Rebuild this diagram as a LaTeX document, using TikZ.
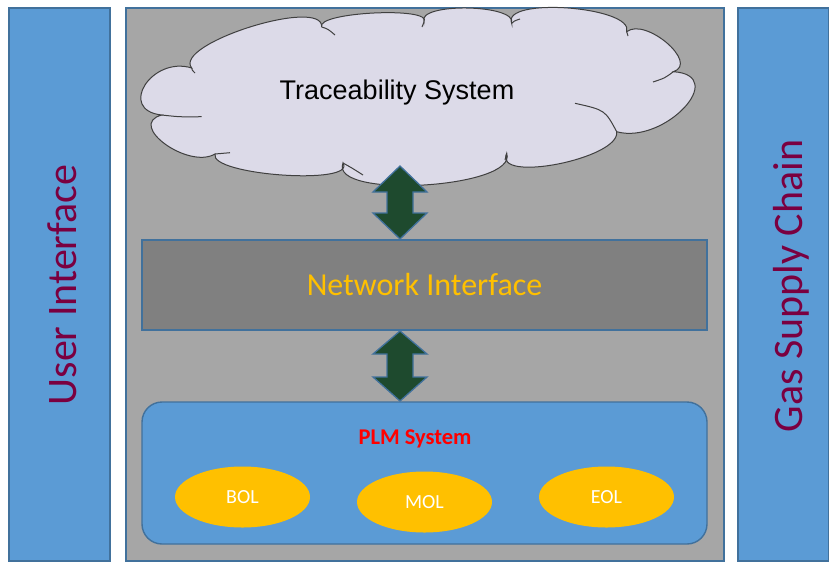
\documentclass[tikz,border=0pt]{standalone}
\usepackage{fontspec}
\setmainfont{Carlito}
\newfontfamily\arialf{Liberation Sans}
\usetikzlibrary{calc,shapes.geometric}
\definecolor{barblue}{HTML}{5B9BD5}
\definecolor{barline}{HTML}{41719C}
\definecolor{panelgrey}{HTML}{A6A6A6}
\definecolor{netgrey}{HTML}{808080}
\definecolor{cloudfill}{HTML}{DCDAE8}
\definecolor{shadowgrey}{HTML}{7F7F7F}
\definecolor{gold}{HTML}{FFC000}
\definecolor{arrowgreen}{HTML}{1E4A2E}
\definecolor{maroon}{HTML}{7A0040}
\tikzset{
  sidebar/.style={draw=barline, line width=1.2pt, fill=barblue},
  sidetext/.style={text=maroon, font=\fontsize{42}{42}\selectfont, rotate=90},
  blockarrow/.style={draw=barline, line width=1.3pt, fill=arrowgreen, line join=miter},
  lifeell/.style={ellipse, fill=gold, minimum width=135pt, minimum height=61pt, inner sep=0pt, text=white, font=\fontsize{20}{20}\selectfont},
  puff/.style n args={3}{insert path={.. controls ($0.4133*(#1)+1.3333*(#2)-0.7467*(#3)$) and ($0.4133*(#3)+1.3333*(#2)-0.7467*(#1)$) .. (#3)}},
  cloudline/.style={draw=black!75, line width=1pt},
}
\begin{document}
\begin{tikzpicture}[x=1pt,y=-1pt]
\useasboundingbox (0,0) rectangle (829,563);
% side bars
\draw[sidebar] (9,8) rectangle (110,561);
\node[sidetext] (ui) at (62,285) {User Interface};
\draw[sidebar] (738,8) rectangle (829,561);
\node[sidetext] (gsc) at (791,286) {Gas Supply Chain};
% central panel
\draw[draw=barline, line width=1.2pt, fill=panelgrey] (126,8) rectangle (724,561);
% cloud geometry
\coordinate (J1) at (191.7,68);  \coordinate (E1) at (250,27);
\coordinate (J2) at (321.7,27);  \coordinate (E2) at (374,13);
\coordinate (J3) at (424,22);    \coordinate (E3) at (467,8);
\coordinate (J4) at (511.7,23.3);\coordinate (E4) at (568,8);
\coordinate (J5) at (626.7,31.7);\coordinate (E5) at (667,43);
\coordinate (J6) at (673.3,71.7);\coordinate (E6) at (684,108);
\coordinate (J7) at (616.7,131.7);\coordinate (E7) at (558,164);
\coordinate (J8) at (506.7,153.3);\coordinate (E8) at (424,185);
\coordinate (J9) at (343,163);   \coordinate (E9) at (282,175);
\coordinate (J10) at (215,154);  \coordinate (E10) at (165,144);
\coordinate (J11) at (161.7,115);\coordinate (E11) at (145,85);
% shadow
\begin{scope}[shift={(13,16)}]
\fill[shadowgrey] (J1) [puff={J1}{E1}{J2}] [puff={J2}{E2}{J3}] [puff={J3}{E3}{J4}] [puff={J4}{E4}{J5}]
  [puff={J5}{E5}{J6}] [puff={J6}{E6}{J7}] [puff={J7}{E7}{J8}] [puff={J8}{E8}{J9}]
  [puff={J9}{E9}{J10}] [puff={J10}{E10}{J11}] [puff={J11}{E11}{J1}] -- cycle;
\end{scope}
% cloud
\path[cloudline, fill=cloudfill] (J1) [puff={J1}{E1}{J2}] [puff={J2}{E2}{J3}] [puff={J3}{E3}{J4}] [puff={J4}{E4}{J5}]
  [puff={J5}{E5}{J6}] [puff={J6}{E6}{J7}] [puff={J7}{E7}{J8}] [puff={J8}{E8}{J9}]
  [puff={J9}{E9}{J10}] [puff={J10}{E10}{J11}] [puff={J11}{E11}{J1}] -- cycle;
% inner cloud arcs
\draw[cloudline] (J11) .. controls (180,117) .. (201.7,116.7);
\draw[cloudline] (J1) .. controls (192,70) .. (195,73);
\draw[cloudline] (J2) .. controls (328,29) .. (335,35);
\draw[cloudline] (J3) .. controls (423,24) .. (422,27);
\draw[cloudline] (J4) .. controls (514,21) .. (520,19);
\draw[cloudline] (J5) .. controls (627,33) .. (628,36);
\draw[cloudline] (653,82) .. controls (665,78) .. (J6);
\draw[cloudline] (575,103.3) .. controls (605,110) .. (J7);
\draw[cloudline] (J8) .. controls (506,157) .. (505,160);
\draw[cloudline] (J9) .. controls (352,168) .. (363,175);
\draw[cloudline] (J10) .. controls (222,153) .. (230,152.7);
\node[font=\arialf\fontsize{27}{27}\selectfont] (trace) at (397,93) {Traceability System};
% network interface
\node[draw=barline, line width=1.2pt, fill=netgrey, minimum width=565pt, minimum height=90pt, inner sep=0pt,
      text=gold, font=\fontsize{32}{32}\selectfont] (net) at (424.5,285) {Network Interface};
% PLM
\node[draw=barline, line width=1.4pt, fill=barblue, rounded corners=20pt, minimum width=565pt, minimum height=142pt, inner sep=0pt] (plm) at (424.5,473) {};
\node[text=red, font=\bfseries\fontsize{22.5}{22.5}\selectfont] (plmt) at (415,439) {PLM System};
\node[lifeell] (bol) at (242.5,497) {BOL};
\node[lifeell] (mol) at (424.5,502) {MOL};
\node[lifeell] (eol) at (606.5,497) {EOL};
% arrows
\draw[blockarrow] (400,166) -- (427,192) -- (413,192) -- (413,213) -- (427,213) -- (400,239)
   -- (373,213) -- (387,213) -- (387,192) -- (373,192) -- cycle;
\draw[blockarrow] (400,331) -- (427,354) -- (413,354) -- (413,377) -- (427,377) -- (400,401)
   -- (373,377) -- (387,377) -- (387,354) -- (373,354) -- cycle;
\end{tikzpicture}
\end{document}
